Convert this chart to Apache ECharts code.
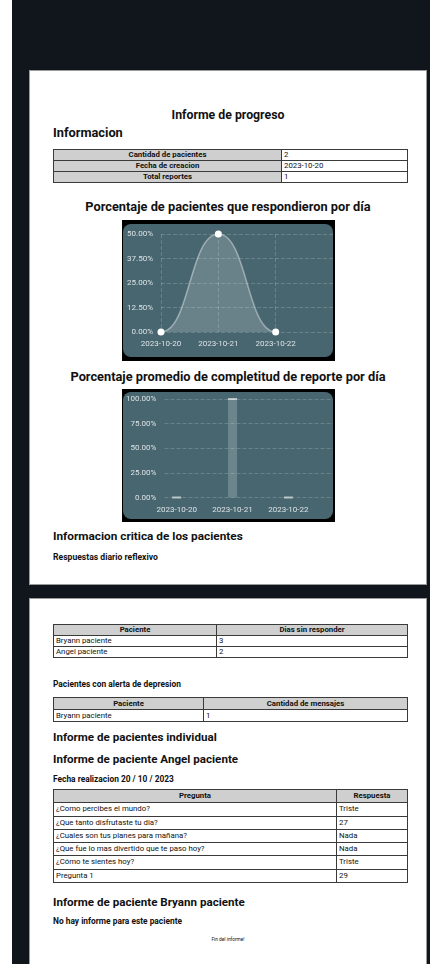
<!DOCTYPE html>
<html><head><meta charset="utf-8">
<script src="https://cdn.jsdelivr.net/npm/echarts@6/dist/echarts.min.js"></script>
<style>
html,body{margin:0;padding:0;background:#fff;width:430px;height:964px;overflow:hidden;font-family:Roboto,"Noto Sans",sans-serif;color:#111}
#dark{position:absolute;left:12px;top:0;width:418px;height:964px;background:#10161c}
.page{position:absolute;left:29px;width:396px;background:#fff;border:1px solid #9a9a9a}
.t{position:absolute;white-space:nowrap;font-weight:700;line-height:1}
table{position:absolute;border-collapse:collapse;font-size:7.8px;table-layout:fixed}
td,th{border:1px solid #3a3a3a;height:10px;padding:0 2px;line-height:10px;white-space:nowrap;overflow:hidden}
table.mid td,table.mid th{height:11px;line-height:11px}
table.tall td,table.tall th{height:12.3px;line-height:12.3px}
th{background:#cfcfcf;font-weight:700;text-align:center}
td{text-align:left;font-weight:400}
.frame{position:absolute;background:#000}
.panel{position:absolute;background:#486670;border-radius:8px;overflow:hidden}
</style></head>
<body>
<div id="dark"></div>
<div class="page" id="p1" style="top:70px;height:513px"></div>
<div class="page" id="p2" style="top:598px;height:380px"></div>
<div id="content"></div>
<script>
// ---------- data ----------
const fechas = ['2023-10-20', '2023-10-21', '2023-10-22'];
const pctRespondieron = [0, 50, 0];
const pctCompletitud = [0, 100, 0];
const infoLabels = ['Cantidad de pacientes', 'Fecha de creacion', 'Total reportes'];
const infoValues = ['2', '2023-10-20', '1'];
const sinResponderPacientes = ['Bryann paciente', 'Angel paciente'];
const sinResponderDias = ['3', '2'];
const alertaPacientes = ['Bryann paciente'];
const alertaMensajes = ['1'];
const preguntas = ['¿Como percibes el mundo?', '¿Que tanto disfrutaste tu dia?', '¿Cuales son tus planes para mañana?', '¿Que fue lo mas divertido que te paso hoy?', '¿Cómo te sientes hoy?', 'Pregunta 1'];
const respuestas = ['Triste', '27', 'Nada', 'Nada', 'Triste', '29'];

// ---------- layout helpers ----------
const root = document.getElementById('content');
function text(str, y, size, opts) {
  opts = opts || {};
  const d = document.createElement('div');
  d.className = 't';
  d.textContent = str;
  d.style.fontSize = size + 'px';
  d.style.top = (y - size / 2) + 'px';
  if (opts.center) { d.style.left = '29px'; d.style.width = '398px'; d.style.textAlign = 'center'; }
  else d.style.left = (opts.x || 53) + 'px';
  if (opts.weight) d.style.fontWeight = opts.weight;
  root.appendChild(d);
}
function tableRows(top, left, widths, headerRow, rows, headerLeftCol, cls) {
  const t = document.createElement('table');
  if (cls) t.className = cls;
  t.style.top = top + 'px'; t.style.left = left + 'px';
  t.style.width = widths.reduce((a, b) => a + b, 0) + 'px';
  const cg = document.createElement('colgroup');
  widths.forEach(w => { const c = document.createElement('col'); c.style.width = w + 'px'; cg.appendChild(c); });
  t.appendChild(cg);
  if (headerRow) {
    const tr = document.createElement('tr');
    headerRow.forEach(h => { const th = document.createElement('th'); th.textContent = h; tr.appendChild(th); });
    t.appendChild(tr);
  }
  rows.forEach(r => {
    const tr = document.createElement('tr');
    r.forEach((v, i) => {
      const c = document.createElement((headerLeftCol && i === 0) ? 'th' : 'td');
      c.textContent = v; tr.appendChild(c);
    });
    t.appendChild(tr);
  });
  root.appendChild(t);
}

// ---------- page 1 ----------
text('Informe de progreso', 115, 12.3, {center: true});
text('Informacion', 133, 12.8);
tableRows(149, 53, [228, 126], null, infoLabels.map((l, i) => [l, infoValues[i]]), true);
text('Porcentaje de pacientes que respondieron por día', 207, 12.8, {center: true});
text('Porcentaje promedio de completitud de reporte por día', 377, 12.8, {center: true});
text('Informacion critica de los pacientes', 537, 11.8);
text('Respuestas diario reflexivo', 557, 8.6);

// ---------- page 2 ----------
tableRows(624, 53, [163, 191], ['Paciente', 'Dias sin responder'], sinResponderPacientes.map((p, i) => [p, sinResponderDias[i]]));
text('Pacientes con alerta de depresion', 684, 8.4);
tableRows(697, 53, [150, 204], ['Paciente', 'Cantidad de mensajes'], alertaPacientes.map((p, i) => [p, alertaMensajes[i]]), false, 'mid');
text('Informe de pacientes individual', 738, 11.6);
text('Informe de paciente Angel paciente', 760, 11.6);
text('Fecha realizacion 20 / 10 / 2023', 779, 8.4);
tableRows(789, 53, [283, 71], ['Pregunta', 'Respuesta'], preguntas.map((p, i) => [p, respuestas[i]]), false, 'tall');
text('Informe de paciente Bryann paciente', 903, 11.6);
text('No hay informe para este paciente', 921, 8.4);
text('Fin del informe!', 940, 4.8, {center: true, weight: 400});

// ---------- charts ----------
function makeFrame(left, top, w, h, pl, pt, pw, ph) {
  const f = document.createElement('div');
  f.className = 'frame';
  Object.assign(f.style, {left: left + 'px', top: top + 'px', width: w + 'px', height: h + 'px'});
  root.appendChild(f);
  const p = document.createElement('div');
  p.className = 'panel';
  Object.assign(p.style, {left: pl + 'px', top: pt + 'px', width: pw + 'px', height: ph + 'px'});
  root.appendChild(p);
  return p;
}
const labelColor = '#dbe3e5';
const splitStyle = {type: 'dashed', color: 'rgba(255,255,255,0.18)', width: 1};

const lineData = fechas.map((f, i) => [i, pctRespondieron[i]]);

// smooth curve with flat tangents at every data point, positioned through the chart's own coordinate system
function renderCurve(params, api) {
  if (params.dataIndex !== 0) return null;
  const pts = lineData.map(d => api.coord(d));
  const base = api.coord([0, 0])[1];
  let d = 'M' + pts[0][0] + ' ' + pts[0][1];
  for (let i = 1; i < pts.length; i++) {
    const a = pts[i - 1], b = pts[i], h = (b[0] - a[0]) / 2;
    d += ' C' + (a[0] + h) + ' ' + a[1] + ' ' + (b[0] - h) + ' ' + b[1] + ' ' + b[0] + ' ' + b[1];
  }
  const area = d + ' L' + pts[pts.length - 1][0] + ' ' + base + ' L' + pts[0][0] + ' ' + base + ' Z';
  return {
    type: 'group',
    children: [
      {type: 'path', shape: {pathData: area}, style: {fill: 'rgba(255,255,255,0.18)', stroke: null}},
      {type: 'path', shape: {pathData: d}, style: {fill: null, stroke: 'rgba(255,255,255,0.4)', lineWidth: 1.5}}
    ]
  };
}

const c1 = echarts.init(makeFrame(122, 220, 213, 141, 123, 224, 210, 133), null, {renderer: 'canvas'});
c1.setOption({
  animation: false,
  textStyle: {fontFamily: 'Roboto'},
  grid: {left: 38, top: 10, width: 174, height: 98, containLabel: false},
  xAxis: {
    type: 'value', min: 0, max: 3, interval: 1,
    axisLine: {show: false}, axisTick: {show: false},
    splitLine: {show: true, lineStyle: splitStyle},
    axisLabel: {customValues: [0, 1, 2], formatter: v => fechas[v] || '', color: labelColor, fontSize: 8, margin: 8}
  },
  yAxis: {
    type: 'value', min: 0, max: 50, interval: 12.5,
    axisLine: {show: false}, axisTick: {show: false},
    splitLine: {show: true, lineStyle: splitStyle},
    axisLabel: {formatter: v => v.toFixed(2) + '%', color: labelColor, fontSize: 8, margin: 8}
  },
  series: [{
    type: 'custom', renderItem: renderCurve, data: lineData, encode: {x: 0, y: 1}, z: 1
  }, {
    type: 'line', data: lineData, z: 3,
    symbol: 'circle', symbolSize: 7,
    itemStyle: {color: '#ffffff'},
    lineStyle: {width: 0, opacity: 0}
  }]
});

const c2 = echarts.init(makeFrame(122, 389, 213, 133, 123, 392, 210, 127), null, {renderer: 'canvas'});
c2.setOption({
  animation: false,
  textStyle: {fontFamily: 'Roboto'},
  grid: {left: 34, top: 7, width: 176, height: 98.5, containLabel: false},
  xAxis: {
    type: 'value', min: -0.22, max: 2.8,
    axisLine: {show: false}, axisTick: {show: false},
    splitLine: {show: false},
    axisLabel: {customValues: [0, 1, 2], formatter: v => fechas[v] || '', color: labelColor, fontSize: 8, margin: 8}
  },
  yAxis: {
    type: 'value', min: 0, max: 100, interval: 25,
    axisLine: {show: false}, axisTick: {show: false},
    splitLine: {show: true, lineStyle: splitStyle},
    axisLabel: {formatter: v => v.toFixed(2) + '%', color: labelColor, fontSize: 8, margin: 8}
  },
  series: [{
    type: 'bar', barWidth: 9,
    data: fechas.map((f, i) => [i, pctCompletitud[i]]),
    itemStyle: {color: 'rgba(255,255,255,0.2)'}
  }, {
    type: 'scatter', symbol: 'rect', symbolSize: [9, 2],
    data: fechas.map((f, i) => [i, pctCompletitud[i]]),
    itemStyle: {color: 'rgba(255,255,255,0.75)'}
  }]
});
</script>
</body></html>
